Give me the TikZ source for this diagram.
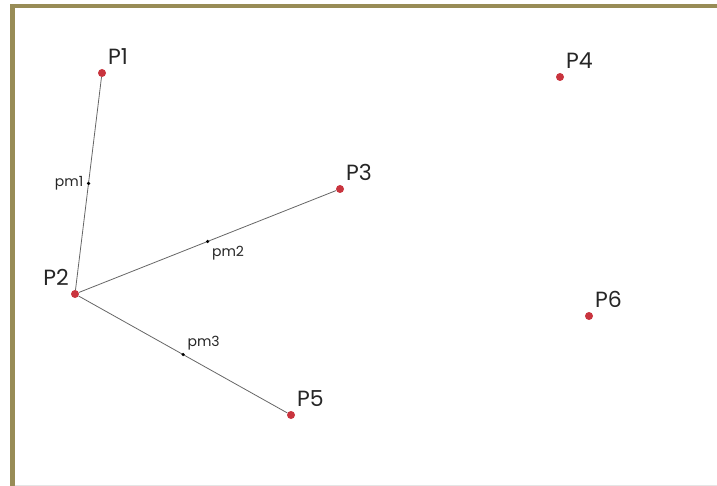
\documentclass[tikz,border=0pt]{standalone}
\usepackage{fontspec}
\setmainfont{Poppins}
\usepackage{tikz}
\usetikzlibrary{calc}
\definecolor{frameolive}{RGB}{152,140,86}
\definecolor{pointred}{RGB}{201,52,62}
\tikzset{
    point/.style={circle, fill=pointred, inner sep=0pt, minimum size=8pt},
    midpoint/.style={circle, fill=black, inner sep=0pt, minimum size=3.5pt},
    plabel/.style={font=\fontsize{22}{22}\selectfont, text=black!85, inner sep=3pt, yshift=2pt},
    mlabel/.style={font=\fontsize{14}{14}\selectfont, text=black!85, inner sep=3pt},
    segment/.style={draw=black!60, line width=0.8pt}
}

\begin{document}
\begin{tikzpicture}[x=1pt, y=-1pt, label distance=0pt]
    \useasboundingbox (0,0) rectangle (717,486);

    % Frame
    \fill[frameolive] (10,4) rectangle (717,8.5);
    \fill[frameolive] (10,4) rectangle (14.5,486);
    \draw[black!10, line width=1pt] (14.5,485) -- (717,485);

    % Points
    \node[point, label={[plabel]above right:P1}] (p1) at (102,73) {};
    \node[point, label={[plabel]above left:P2}] (p2) at (75,294) {};
    \node[point, label={[plabel]above right:P3}] (p3) at (340,189) {};
    \node[point, label={[plabel]above right:P4}] (p4) at (560,77) {};
    \node[point, label={[plabel]above right:P5}] (p5) at (291,415) {};
    \node[point, label={[plabel]above right:P6}] (p6) at (589,316) {};

    % Segments from P2
    \draw[segment] (p2) -- (p1);
    \draw[segment] (p2) -- (p3);
    \draw[segment] (p2) -- (p5);

    % Midpoints
    \node[midpoint, label={[mlabel]left:pm1}] (pm1) at ($(p1)!0.5!(p2)$) {};
    \node[midpoint, label={[mlabel]below right:pm2}] (pm2) at ($(p2)!0.5!(p3)$) {};
    \node[midpoint, label={[mlabel]above right:pm3}] (pm3) at ($(p2)!0.5!(p5)$) {};

\end{tikzpicture}
\end{document}
